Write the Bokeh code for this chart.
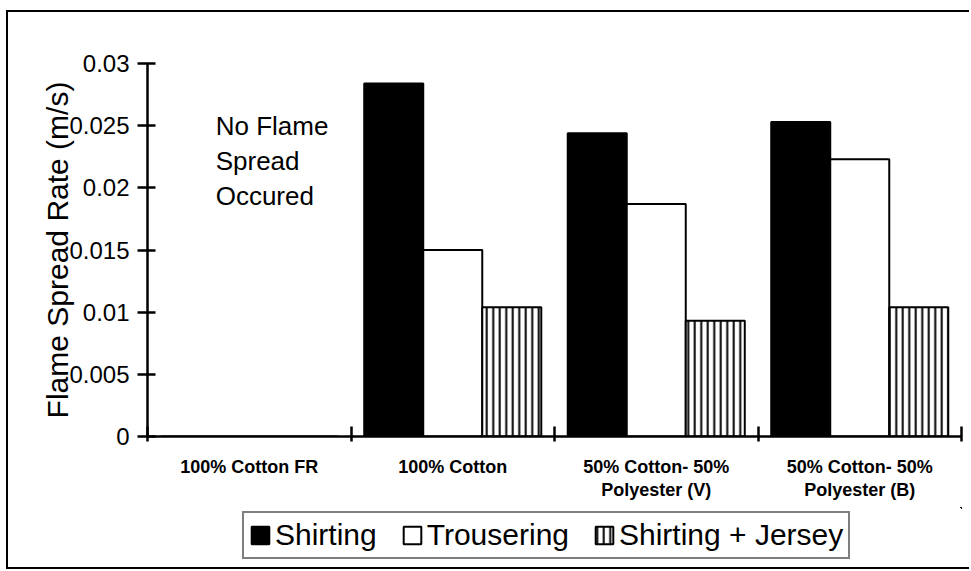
import numpy as np
from bokeh.plotting import figure
from bokeh.layouts import column
from bokeh.models import (FixedTicker, NumeralTickFormatter, Legend, LegendItem,
                          Label, Range1d)
from bokeh.embed import file_html
from bokeh.resources import INLINE

# ---- data ----
categories = ["100% Cotton FR", "100% Cotton",
              "50% Cotton- 50%\nPolyester (V)", "50% Cotton- 50%\nPolyester (B)"]
series_names = ["Shirting", "Trousering", "Shirting + Jersey"]
shirting = [0.0, 0.0284, 0.0244, 0.0253]
trousering = [0.0, 0.0150, 0.0187, 0.0223]
shirting_jersey = [0.0, 0.0104, 0.0093, 0.0104]
y_ticks = [0, 0.005, 0.01, 0.015, 0.02, 0.025, 0.03]
note_text = "No Flame\nSpread\nOccured"

FONT = "Liberation Sans"

centers = np.arange(len(categories)) + 0.5
boundaries = list(np.arange(len(categories) + 1).astype(float))
series_values = [shirting, trousering, shirting_jersey]

styles = [dict(fill_color="black", line_color="black", line_width=2),
          dict(fill_color="white", line_color="black", line_width=2),
          dict(fill_color="white", line_color="black", line_width=2,
               hatch_pattern="|", hatch_color="black", hatch_weight=2, hatch_scale=6.5)]

p = figure(width=961, height=495, frame_width=814, frame_height=373,
           min_border_left=139, min_border_top=51, min_border_right=8,
           min_border_bottom=71,
           x_range=Range1d(0, len(categories)), y_range=Range1d(0, 0.03),
           output_backend="svg", toolbar_location=None,
           background_fill_color="white", border_fill_color="white")
p.outline_line_color = None
p.grid.visible = False

bw = 0.29
offsets = [-bw, 0.0, bw]
for vals, off, st in zip(series_values, offsets, styles):
    p.vbar(x=centers + off, top=vals, width=bw, bottom=0, **st)

# y axis
ya = p.yaxis[0]
ya.ticker = FixedTicker(ticks=y_ticks)
ya.formatter = NumeralTickFormatter(format="0.[000]")
ya.axis_label = "Flame Spread Rate (m/s)"
ya.axis_label_text_font = FONT
ya.axis_label_text_font_size = "30px"
ya.axis_label_text_font_style = "normal"
ya.axis_label_text_color = "black"
ya.axis_label_standoff = -8
ya.major_label_text_font = FONT
ya.major_label_text_font_size = "24px"
ya.major_label_text_color = "black"
ya.major_label_standoff = 8
ya.major_tick_in = 8
ya.major_tick_out = 10
ya.minor_tick_line_color = None
ya.axis_line_width = 2.5
ya.major_tick_line_width = 2.5
ya.axis_line_color = "black"
ya.major_tick_line_color = "black"

# x axis: labels at category centres, ticks at category boundaries
xa = p.xaxis[0]
xa.ticker = FixedTicker(ticks=list(centers), minor_ticks=boundaries)
xa.major_label_overrides = {float(c): lab for c, lab in zip(centers, categories)}
xa.major_label_text_font = FONT
xa.major_label_text_font_style = "bold"
xa.major_label_text_font_size = "18px"
xa.major_label_text_color = "black"
xa.major_label_text_line_height = 1.15
xa.major_label_standoff = 15
xa.major_tick_in = 0
xa.major_tick_out = 0
xa.major_tick_line_color = None
xa.minor_tick_in = 10
xa.minor_tick_out = 5
xa.minor_tick_line_width = 2.5
xa.minor_tick_line_color = "black"
xa.axis_line_width = 2.5
xa.axis_line_color = "black"

# annotation
p.add_layout(Label(x=0.335, y=0.0262, text=note_text, text_font=FONT,
                   text_font_size="26px", text_baseline="top",
                   text_line_height=1.17, text_color="black"))

# ---- legend strip (separate small figure below the chart) ----
# its ranges are set away from the data so that only the legend swatches show
p2 = figure(width=961, height=60, title=None,
            min_border_left=0, min_border_right=0, min_border_top=0, min_border_bottom=0,
            x_range=Range1d(-20, -19), y_range=Range1d(-20, -19),
            x_axis_location=None, y_axis_location=None,
            output_backend="svg", toolbar_location=None,
            background_fill_color="white", border_fill_color="white")
p2.outline_line_color = None
p2.grid.visible = False
swatches = [p2.vbar(x=centers + off, top=vals, width=bw, bottom=0, **st)
            for vals, off, st in zip(series_values, offsets, styles)]

legend = Legend(items=[LegendItem(label=name, renderers=[rr])
                       for name, rr in zip(series_names, swatches)],
                location=(95, 8), orientation="horizontal",
                border_line_color="black", border_line_width=2,
                background_fill_color="white", background_fill_alpha=1,
                label_text_font=FONT, label_text_font_size="30px",
                label_text_color="black",
                glyph_width=22, glyph_height=22, label_standoff=4,
                spacing=24, padding=5, margin=0)
p2.add_layout(legend)

layout = column(p, p2, spacing=0)
layout.styles = {"border-left": "2px solid black", "border-top": "2px solid black",
                 "border-bottom": "2px solid black", "border-right": "0px",
                 "margin-left": "6px", "margin-top": "10px"}

open("out.html", "w").write(file_html(layout, INLINE))
